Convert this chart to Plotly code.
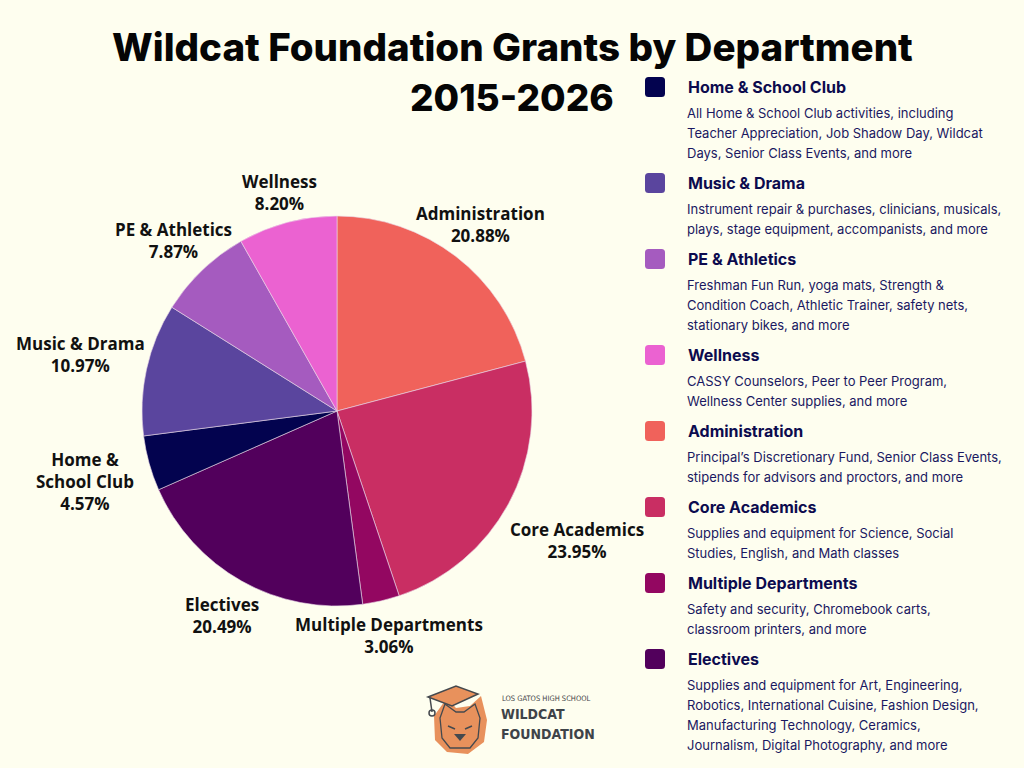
import math
import plotly.graph_objects as go

# ---------------- data ----------------
departments = ["Administration", "Core Academics", "Multiple Departments", "Electives",
               "Home & School Club", "Music & Drama", "PE & Athletics", "Wellness"]
shares = [20.88, 23.95, 3.06, 20.49, 4.57, 10.97, 7.87, 8.20]
label_names = ["Administration", "Core Academics", "Multiple Departments", "Electives",
               "Home &<br>School Club", "Music & Drama", "PE & Athletics", "Wellness"]
colors = {
    "Administration": "#F0625B",
    "Core Academics": "#C92E63",
    "Multiple Departments": "#930761",
    "Electives": "#52005C",
    "Home & School Club": "#03034F",
    "Music & Drama": "#5A459E",
    "PE & Athletics": "#A55BBF",
    "Wellness": "#EB62D1",
}
legend_order = ["Home & School Club", "Music & Drama", "PE & Athletics", "Wellness",
                "Administration", "Core Academics", "Multiple Departments", "Electives"]
descriptions = {
    "Home & School Club": ["All Home & School Club activities, including",
                           "Teacher Appreciation, Job Shadow Day, Wildcat",
                           "Days, Senior Class Events, and more"],
    "Music & Drama": ["Instrument repair & purchases, clinicians, musicals,",
                      "plays, stage equipment, accompanists, and more"],
    "PE & Athletics": ["Freshman Fun Run, yoga mats, Strength &",
                       "Condition Coach, Athletic Trainer, safety nets,",
                       "stationary bikes, and more"],
    "Wellness": ["CASSY Counselors, Peer to Peer Program,",
                 "Wellness Center supplies, and more"],
    "Administration": ["Principal\u2019s Discretionary Fund, Senior Class Events,",
                       "stipends for advisors and proctors, and more"],
    "Core Academics": ["Supplies and equipment for Science, Social",
                       "Studies, English, and Math classes"],
    "Multiple Departments": ["Safety and security, Chromebook carts,",
                             "classroom printers, and more"],
    "Electives": ["Supplies and equipment for Art, Engineering,",
                  "Robotics, International Cuisine, Fashion Design,",
                  "Manufacturing Technology, Ceramics,",
                  "Journalism, Digital Photography, and more"],
}
title_lines = ["Wildcat Foundation Grants by Department", "2015-2026"]

# ---------------- layout helpers (styles / positions) ----------------
W, H = 1024, 768
BG = "#FEFEEF"
NAVY = "#0C0B4E"
DESC = "#1A1861"
PIE_X0, PIE_X1, PIE_Y0, PIE_Y1 = 142, 532, 216, 606   # pixel box of the pie domain
# distance (px) of each label centre from the pie centre, per slice
label_dist = [235, 273, 230, 234, 262, 263, 236, 226]

def px(x):
    return x / W

def py(y):
    return 1 - y / H

fig = go.Figure()

fig.add_trace(go.Pie(
    labels=departments,
    values=shares,
    textinfo="none",
    marker=dict(colors=[colors[d] for d in departments],
                line=dict(color="#E9D8E8", width=0.6)),
    sort=False,
    direction="clockwise",
    rotation=0,
    showlegend=False,
    hoverinfo="label+percent",
    domain=dict(x=[px(PIE_X0), px(PIE_X1)], y=[py(PIE_Y1), py(PIE_Y0)]),
))

annotations = []
shapes = []

# slice labels, placed along each slice's mid-angle (computed from the data)
cx = (PIE_X0 + PIE_X1) / 2
cy = (PIE_Y0 + PIE_Y1) / 2
total = sum(shares)
cum = 0.0
for name, val, dist in zip(label_names, shares, label_dist):
    mid = (cum + val / 2) / total * 2 * math.pi
    cum += val
    lx = cx + dist * math.sin(mid)
    ly = cy - dist * math.cos(mid)
    annotations.append(dict(text=f"{name}<br>{val:.2f}%", x=px(lx), y=py(ly),
                            xref="paper", yref="paper", xanchor="center", yanchor="middle",
                            showarrow=False, align="center",
                            font=dict(family="Open Sans", size=17, color="#111111", weight=700)))

# title
for txt, ty, fs in zip(title_lines, [47, 97], [38.5, 37]):
    annotations.append(dict(text=txt, x=px(512), y=py(ty), xref="paper", yref="paper",
                            xanchor="center", yanchor="middle", showarrow=False,
                            font=dict(family="Inter", size=fs, color="#050505", weight=800)))

def rounded_rect(x0, y0, x1, y1, r):
    pts = [
        f"M {px(x0 + r)},{py(y0)}",
        f"L {px(x1 - r)},{py(y0)}",
        f"Q {px(x1)},{py(y0)} {px(x1)},{py(y0 + r)}",
        f"L {px(x1)},{py(y1 - r)}",
        f"Q {px(x1)},{py(y1)} {px(x1 - r)},{py(y1)}",
        f"L {px(x0 + r)},{py(y1)}",
        f"Q {px(x0)},{py(y1)} {px(x0)},{py(y1 - r)}",
        f"L {px(x0)},{py(y0 + r)}",
        f"Q {px(x0)},{py(y0)} {px(x0 + r)},{py(y0)}",
        "Z",
    ]
    return " ".join(pts)

# custom legend
y = 87
for dep in legend_order:
    shapes.append(dict(type="path", xref="paper", yref="paper",
                       path=rounded_rect(645, y - 10, 665, y + 10, 3.5),
                       fillcolor=colors[dep], line=dict(width=0), layer="above"))
    annotations.append(dict(text=dep, x=px(686), y=py(y), xref="paper", yref="paper",
                            xanchor="left", yanchor="middle", showarrow=False,
                            font=dict(family="Inter", size=16, color=NAVY, weight=700)))
    ly = y + 26
    for line in descriptions[dep]:
        annotations.append(dict(text=line, x=px(685), y=py(ly), xref="paper", yref="paper",
                                xanchor="left", yanchor="middle", showarrow=False,
                                font=dict(family="Inter", size=13, color=DESC)))
        ly += 20
    y = y + 26 + 20 * len(descriptions[dep]) + 10

# logo text
GRAY = "#3E4348"
annotations.append(dict(text="LOS GATOS HIGH SCHOOL", x=px(500), y=py(698), xref="paper", yref="paper",
                        xanchor="left", yanchor="middle", showarrow=False,
                        font=dict(family="Liberation Sans Narrow, DejaVu Sans Condensed, Liberation Sans", size=7.5, color=GRAY)))
for txt, ty in [("WILDCAT", 714), ("FOUNDATION", 734)]:
    annotations.append(dict(text=txt, x=px(499), y=py(ty), xref="paper", yref="paper",
                            xanchor="left", yanchor="middle", showarrow=False,
                            font=dict(family="Liberation Sans Narrow, DejaVu Sans Condensed, Liberation Sans",
                                      size=14, color=GRAY, weight=700)))

# logo icon (decorative)
def path(points):
    return "M " + " L ".join(f"{px(a):.5f},{py(b):.5f}" for a, b in points) + " Z"

head = [(447, 698), (456, 708), (470, 706), (481, 696), (487, 720), (484, 742),
        (468, 754), (447, 752), (435, 740), (434, 716)]
shapes.append(dict(type="path", xref="paper", yref="paper", path=path(head),
                   fillcolor="#E8915C", line=dict(width=0)))
cap = [(428, 697), (456, 686), (478, 694), (452, 706)]
shapes.append(dict(type="path", xref="paper", yref="paper", path=path(cap),
                   fillcolor="#E8915C", line=dict(color="#45494E", width=1.5)))
shapes.append(dict(type="line", xref="paper", yref="paper",
                   x0=px(430), y0=py(698), x1=px(432), y1=py(712),
                   line=dict(color="#45494E", width=1.5)))
shapes.append(dict(type="circle", xref="paper", yref="paper",
                   x0=px(429), y0=py(710), x1=px(435), y1=py(716),
                   line=dict(color="#45494E", width=1.5)))
face = [(440, 718), (445, 704), (456, 712), (464, 712), (475, 704), (480, 718),
        (478, 738), (470, 748), (450, 748), (442, 738)]
shapes.append(dict(type="path", xref="paper", yref="paper", path=path(face),
                   fillcolor="rgba(0,0,0,0)", line=dict(color="#45494E", width=1.3)))
shapes.append(dict(type="path", xref="paper", yref="paper",
                   path=path([(454, 734), (466, 734), (460, 741)]),
                   fillcolor="#45494E", line=dict(width=0)))
shapes.append(dict(type="line", xref="paper", yref="paper",
                   x0=px(448), y0=py(726), x1=px(455), y1=py(729),
                   line=dict(color="#45494E", width=1.5)))
shapes.append(dict(type="line", xref="paper", yref="paper",
                   x0=px(472), y0=py(726), x1=px(465), y1=py(729),
                   line=dict(color="#45494E", width=1.5)))

fig.update_layout(
    width=W, height=H,
    margin=dict(l=0, r=0, t=0, b=0),
    paper_bgcolor=BG, plot_bgcolor=BG,
    annotations=annotations,
    shapes=shapes,
)

fig.write_html("out.html",
               config=dict(displayModeBar=False),
               post_script="document.body.style.margin='0px';document.body.style.overflow='hidden';")
